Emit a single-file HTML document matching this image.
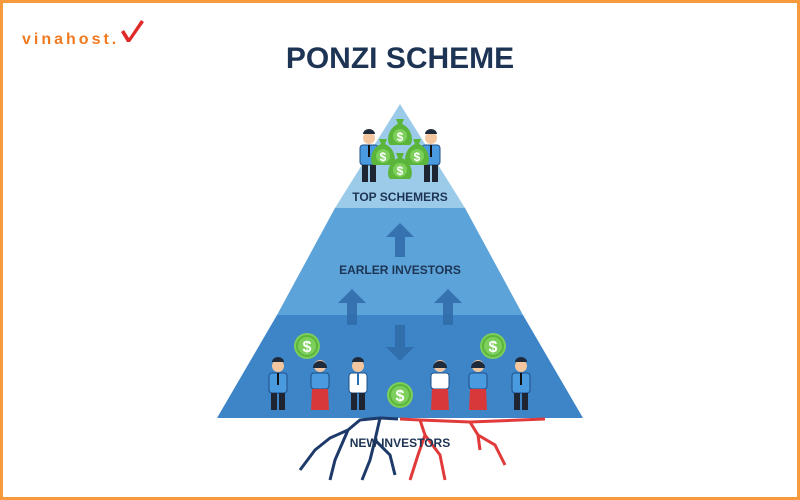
<!DOCTYPE html>
<html><head><meta charset="utf-8"><style>
html,body{margin:0;padding:0;background:#fff}
svg{display:block}
text{font-family:"Liberation Sans",sans-serif;font-weight:bold}
</style></head><body>
<svg width="800" height="500" viewBox="0 0 800 500" xmlns="http://www.w3.org/2000/svg">
<defs>
<g id="coin"><circle r="13" fill="#7ccf5a"/><circle r="10" fill="none" stroke="#5bb53b" stroke-width="2"/><text y="6" text-anchor="middle" font-size="16" fill="#fff">$</text></g>
<g id="bag"><path d="M-4,-14 L4,-14 L2,-9 C12,-5 14,8 10,12 L-10,12 C-14,8 -12,-5 -2,-9 Z" fill="#5bb53b"/><circle cy="3" r="7" fill="#7ccf5a"/><text y="8" text-anchor="middle" font-size="12" fill="#fff">$</text></g>
<g id="man"><circle cy="-32" r="6" fill="#f3c6a0"/><path d="M-6,-36 a6,5 0 0 1 12,0 Z" fill="#1f2a3a"/><rect x="-9" y="-25" width="18" height="20" rx="3" fill="#4a9ae0" stroke="#1f4f86" stroke-width="1"/><rect x="-1" y="-25" width="2" height="12" fill="#111"/><rect x="-7" y="-5" width="6" height="17" fill="#1f2530"/><rect x="1" y="-5" width="6" height="17" fill="#1f2530"/></g>
<g id="manw"><circle cy="-32" r="6" fill="#f3c6a0"/><path d="M-6,-36 a6,5 0 0 1 12,0 Z" fill="#1f2a3a"/><rect x="-9" y="-25" width="18" height="20" rx="3" fill="#fff" stroke="#1f4f86" stroke-width="1"/><rect x="-1" y="-25" width="2" height="12" fill="#2a6fb5"/><rect x="-7" y="-5" width="6" height="17" fill="#1f2530"/><rect x="1" y="-5" width="6" height="17" fill="#1f2530"/></g>
<g id="woman"><circle cy="-32" r="6" fill="#f3c6a0"/><path d="M-7,-30 a7,7 0 0 1 14,0 Z" fill="#1f2a3a"/><rect x="-9" y="-25" width="18" height="16" rx="3" fill="#4a9ae0" stroke="#1f4f86" stroke-width="1"/><path d="M-8,-9 L8,-9 L9,12 L-9,12 Z" fill="#d9383a"/></g>
<g id="womanw"><circle cy="-32" r="6" fill="#f3c6a0"/><path d="M-7,-30 a7,7 0 0 1 14,0 Z" fill="#1f2a3a"/><rect x="-9" y="-25" width="18" height="16" rx="3" fill="#fff" stroke="#1f4f86" stroke-width="1"/><path d="M-8,-9 L8,-9 L9,12 L-9,12 Z" fill="#d9383a"/></g>
</defs>
<rect x="0" y="0" width="800" height="500" fill="#fff"/>
<rect x="1.5" y="1.5" width="797" height="497" fill="none" stroke="#f79a3c" stroke-width="3"/>
<text x="22" y="44" font-size="16" fill="#f07a22" letter-spacing="3" font-weight="bold">vinahost.</text>
<path d="M124,30 l5,8 l12,-18 l3,2 l-14,20 l-3,0 l-6,-10 z" fill="#e02a2a"/>
<text x="400" y="68" text-anchor="middle" font-size="30" fill="#1e3454">PONZI SCHEME</text>
<polygon points="217,418 583,418 523,315 277,315" fill="#3d85c7"/>
<polygon points="277,315 523,315 465,208 335,208" fill="#5ba3d8"/>
<polygon points="335,208 465,208 400,104" fill="#9ccbe9"/>
<text x="400" y="201" text-anchor="middle" font-size="12" fill="#1e3454">TOP SCHEMERS</text>
<text x="400" y="274" text-anchor="middle" font-size="12" fill="#1e3454">EARLER INVESTORS</text>
<g fill="#2f6aa8" opacity="0.85">
<path d="M395,257 v-20 h-9 l14,-14 l14,14 h-9 v20 z"/>
<path d="M347,325 v-22 h-9 l14,-14 l14,14 h-9 v22 z"/>
<path d="M443,325 v-22 h-9 l14,-14 l14,14 h-9 v22 z"/>
<path d="M395,325 v22 h-9 l14,14 l14,-14 h-9 v-22 z"/>
</g>
<use href="#man" x="369" y="170"/>
<use href="#man" x="431" y="170"/>
<use href="#bag" x="400" y="133"/>
<use href="#bag" x="383" y="153"/>
<use href="#bag" x="417" y="153"/>
<use href="#bag" x="400" y="167"/>
<use href="#coin" x="307" y="346"/>
<use href="#coin" x="493" y="346"/>
<use href="#coin" x="400" y="395"/>
<use href="#man" x="278" y="398"/>
<use href="#woman" x="320" y="398"/>
<use href="#manw" x="358" y="398"/>
<use href="#womanw" x="440" y="398"/>
<use href="#woman" x="478" y="398"/>
<use href="#man" x="521" y="398"/>
<path d="M398,419 L380,418 L360,420 L348,430 L330,438 L315,450 L300,470 M348,430 L335,460 L330,480 M380,418 L375,440 L370,460 L362,480 M375,440 L390,455 L395,475" stroke="#1e3a6a" stroke-width="3" fill="none"/>
<path d="M400,419 L420,420 L470,422 L520,420 L545,419 M420,420 L425,435 L418,455 L410,480 M425,435 L440,455 L445,480 M470,422 L478,435 L495,445 L505,465 M478,435 L480,450" stroke="#e03a3a" stroke-width="3" fill="none"/>
<text x="400" y="447" text-anchor="middle" font-size="12" fill="#1e3454">NEW INVESTORS</text>
</svg>
</body></html>
